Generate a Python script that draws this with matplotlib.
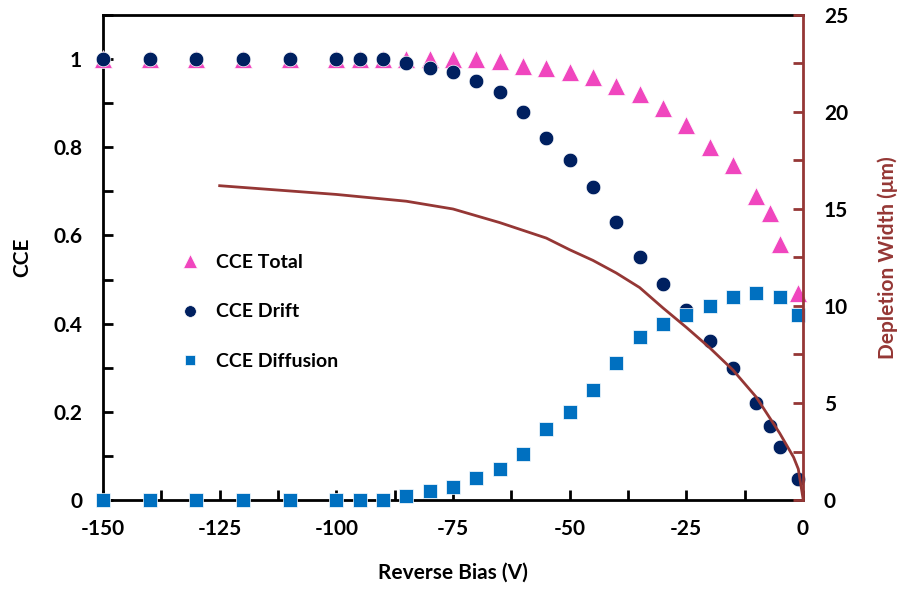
import matplotlib
matplotlib.use("Agg")
import matplotlib.pyplot as plt
from matplotlib.ticker import MultipleLocator, FormatStrFormatter

plt.rcParams['font.family'] = ['Lato', 'DejaVu Sans']
plt.rcParams['font.weight'] = 'bold'
plt.rcParams['axes.unicode_minus'] = False

# reverse bias points (V)
bias = [-150, -140, -130, -120, -110, -100, -95, -90, -85, -80, -75, -70, -65,
        -60, -55, -50, -45, -40, -35, -30, -25, -20, -15, -10, -7, -5, -1]
cce_total = [1.0, 1.0, 1.0, 1.0, 1.0, 1.0, 1.0, 1.0, 1.0, 1.0, 1.0, 1.0, 0.995,
             0.985, 0.98, 0.97, 0.96, 0.94, 0.92, 0.89, 0.85, 0.80, 0.76, 0.69,
             0.65, 0.58, 0.47]
cce_drift = [1.0, 1.0, 1.0, 1.0, 1.0, 1.0, 1.0, 1.0, 0.99, 0.98, 0.97, 0.95, 0.925,
             0.88, 0.82, 0.77, 0.71, 0.63, 0.55, 0.49, 0.43, 0.36, 0.30, 0.22,
             0.168, 0.12, 0.048]

bias_diff = [-150, -140, -130, -120, -110, -100, -95, -90, -85, -80, -75, -70,
             -65, -60, -55, -50, -45, -40, -35, -30, -25, -20, -15, -10, -5, -1]
cce_diff = [0, 0, 0, 0, 0, 0, 0, 0, 0.01, 0.02, 0.03, 0.05, 0.07, 0.105, 0.16,
            0.20, 0.25, 0.31, 0.37, 0.40, 0.42, 0.44, 0.46, 0.47, 0.46, 0.42]

# depletion width (um)
bias_w = [-125, -100, -85, -75, -65, -55, -50, -45, -40, -35, -30, -25, -20,
          -15, -10, -5, -2, -1, 0]
width = [16.2, 15.75, 15.4, 15.0, 14.3, 13.5, 12.9, 12.35, 11.7, 10.95, 9.9,
         8.9, 7.85, 6.7, 5.3, 3.45, 2.2, 1.6, 0.1]

brown = '#953735'

fig = plt.figure(figsize=(9.02, 5.92), dpi=100)
ax = fig.add_axes([0.1142, 0.1554, 0.776, 0.8193])
ax2 = ax.twinx()

ax.plot(bias, cce_total, '^', color='#F046BE', ms=13, mec='white', mew=0.5,
        ls='none', clip_on=False, label='CCE Total', zorder=3)
ax.plot(bias, cce_drift, 'o', color='#002060', ms=10.5, mec='white', mew=0.5,
        ls='none', clip_on=False, label='CCE Drift', zorder=4)
ax.plot(bias_diff, cce_diff, 's', color='#0070C0', ms=9.5, mec='white', mew=0.5,
        ls='none', clip_on=False, label='CCE Diffusion', zorder=5)

ax2.plot(bias_w, width, color=brown, lw=2, clip_on=False)

ax.set_xlim(-150, 0)
ax.set_ylim(0, 1.1)
ax2.set_ylim(0, 25)

ax.xaxis.set_major_locator(MultipleLocator(25))
ax.xaxis.set_minor_locator(MultipleLocator(12.5))
ax.yaxis.set_major_locator(MultipleLocator(0.2))
ax.yaxis.set_minor_locator(MultipleLocator(0.1))
ax.yaxis.set_major_formatter(FormatStrFormatter('%g'))
ax2.yaxis.set_major_locator(MultipleLocator(5))
ax2.yaxis.set_minor_locator(MultipleLocator(2.5))

ax.tick_params(which='both', direction='in', length=7, width=2, labelsize=15,
               top=False, right=False)
ax.tick_params(axis='x', pad=14)
ax.tick_params(axis='y', pad=15)
ax2.tick_params(which='both', direction='in', length=7, width=2, labelsize=15,
                pad=15, color=brown, labelcolor='black')

for s in ['left', 'bottom', 'top']:
    ax.spines[s].set_linewidth(2)
ax.spines['right'].set_visible(False)
for s in ['left', 'bottom', 'top']:
    ax2.spines[s].set_visible(False)
ax2.spines['right'].set_color(brown)
ax2.spines['right'].set_linewidth(2)

ax.set_xlabel('Reverse Bias (V)', fontsize=15, fontweight='bold', labelpad=17)
ax.set_ylabel('CCE', fontsize=15, fontweight='bold', labelpad=15)
ax2.set_ylabel('Depletion Width (\u03bcm)', fontsize=15, fontweight='bold',
               color=brown, labelpad=21)

ax.legend(loc='upper left', bbox_to_anchor=(0.085, 0.544), frameon=False,
          fontsize=14, labelspacing=1.68, handlelength=1.0, handletextpad=0.85,
          numpoints=1, markerscale=0.8)

plt.savefig('out.png', dpi=100)
